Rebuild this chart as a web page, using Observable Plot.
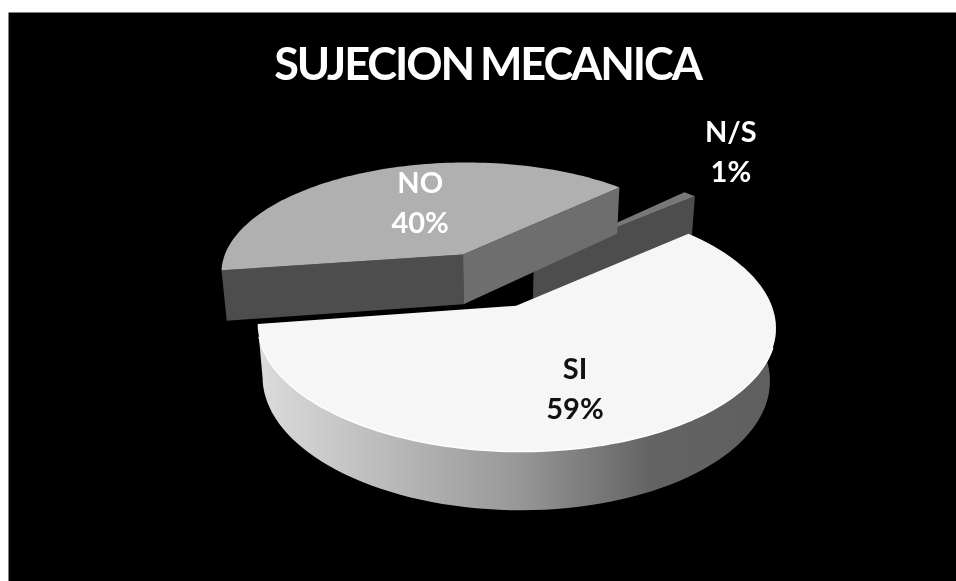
<!DOCTYPE html>
<html>
<head>
<meta charset="utf-8">
<script src="https://cdn.jsdelivr.net/npm/d3@7"></script>
<script src="https://cdn.jsdelivr.net/npm/@observablehq/plot@0.6"></script>
<style>
html,body{margin:0;padding:0;background:#fff;overflow:hidden}
svg{display:block;filter:blur(0.45px)}
</style>
</head>
<body>
<div id="chart"></div>
<script>
const chartTitle = "SUJECION MECANICA";
const categories = ["SI", "NO", "N/S"];
const percents = [59, 40, 1];

// Pie view: a ground circle seen in perspective
const view = {cx: 489, cy: 278.5, R: 246.5, Q: 113.5, k: 0.157, H: 52, m: 0.02, explode: 0.25, start: -40.8};
const labelRadius = [0.5, 0.44, 1.28];
const labelLift = [0.36, -0.3, -0.62];

const rad = d => d * Math.PI / 180;
function project(u, v, z) {
  const w = 1 - view.k * v + view.m * z;
  return {x: view.cx + view.R * u / w, y: view.cy + (view.Q * v + view.H * z) / w};
}
// Slices: SI runs clockwise from the start angle, NO and N/S follow it
let cursor = view.start;
const slices = categories.map((name, i) => {
  const a0 = cursor, a1 = cursor + percents[i] * 3.6;
  cursor = a1;
  const mid = rad((a0 + a1) / 2);
  const ox = view.explode * Math.cos(mid), oy = view.explode * Math.sin(mid);
  const arcPoint = (a, z, r = 1) => project(ox + r * Math.cos(rad(a)), oy + r * Math.sin(rad(a)), z);
  const arc = (from, to, z) => d3.range(0, 97).map(j => arcPoint(from + (to - from) * j / 96, z));
  return {name, pct: percents[i], a0, a1, mid, ox, oy, arcPoint, arc, apex: z => project(ox, oy, z)};
});
const [si, no, ns] = slices;

const topFace = s => [s.apex(0), ...s.arc(s.a0, s.a1, 0)];
const cutAt = (s, a) => [s.apex(0), s.arcPoint(a, 0), s.arcPoint(a, 1), s.apex(1)];
const siWall = [...si.arc(si.a0, si.a1, 0), ...si.arc(si.a0, si.a1, 1).reverse()];

const shape = (points, fill) => Plot.line(points, {x: "x", y: "y", fill, stroke: "none"});

const gradient = () => {
  const defs = d3.create("svg:defs");
  const g = defs.append("linearGradient").attr("id", "wall");
  [[0, "#dcdcdc"], [0.5, "#989898"], [0.76, "#636363"], [1, "#5f5f5f"]].forEach(([o, c]) =>
    g.append("stop").attr("offset", o).attr("stop-color", c));
  return defs.node();
};

const labelRows = slices.map((s, i) => {
  const p = project(s.ox + labelRadius[i] * Math.cos(s.mid), s.oy + labelRadius[i] * Math.sin(s.mid), labelLift[i]);
  return {...p, text: `${s.name}\n${s.pct}%`, fill: s.name === "SI" ? "#111" : "#fff"};
});

const chart = Plot.plot({
  width: 956, height: 581,
  marginLeft: 8, marginTop: 12, marginRight: 0, marginBottom: 0,
  x: {domain: [8, 956], axis: null},
  y: {domain: [581, 12], axis: null},
  style: {background: "#fff"},
  marks: [
    gradient,
    Plot.frame({fill: "#000", stroke: "none"}),
    Plot.text([chartTitle], {frameAnchor: "top", dx: 5, dy: 36, text: d => d, fill: "#fff",
      fontFamily: "Lato", fontWeight: 700, fontSize: 45,
      render(index, scales, values, dimensions, context, next) {
        const g = next(index, scales, values, dimensions, context);
        g.style.letterSpacing = "-2.1px";
        g.style.wordSpacing = "-2px";
        return g;
      }}),
    shape(cutAt(ns, ns.a1), "#4d4d4d"),
    shape(topFace(ns), "#777"),
    shape(cutAt(no, no.a0), "#4d4d4d"),
    shape(cutAt(no, no.a1), "#6e6e6e"),
    shape(topFace(no), "#b0b0b0"),
    shape(siWall, "url(#wall)"),
    shape(topFace(si), "#f6f6f6"),
    Plot.line(si.arc(si.a0 + 60, si.a1 - 6, 0), {x: "x", y: "y", stroke: "#fff", strokeWidth: 1.5}),
    Plot.text(labelRows, {x: "x", y: "y", text: "text", fill: "fill", lineHeight: 1.38,
      fontFamily: "Lato", fontWeight: 700, fontSize: 29})
  ]
});
document.getElementById("chart").append(chart);
</script>
</body>
</html>
